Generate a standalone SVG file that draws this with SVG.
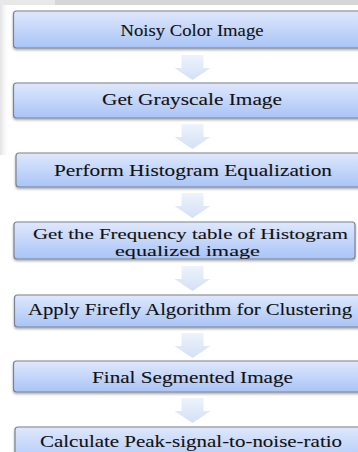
<svg xmlns="http://www.w3.org/2000/svg" width="358" height="452" viewBox="0 0 358 452">
<defs>
<linearGradient id="bg" x1="0" y1="0" x2="0" y2="1">
<stop offset="0" stop-color="#dfe8fc"/>
<stop offset="1" stop-color="#a9c4f7"/>
</linearGradient>
<linearGradient id="ag" x1="0" y1="0" x2="0" y2="1">
<stop offset="0" stop-color="#eef3fc"/>
<stop offset="1" stop-color="#d3e0f5"/>
</linearGradient>
<linearGradient id="ls" x1="0" y1="0" x2="1" y2="0">
<stop offset="0" stop-color="#e2e2e2"/>
<stop offset="1" stop-color="#ffffff" stop-opacity="0"/>
</linearGradient>
<filter id="sh" x="-5%" y="-20%" width="110%" height="150%">
<feDropShadow dx="0" dy="1.5" stdDeviation="1.2" flood-color="#000" flood-opacity="0.35"/>
</filter>
<path id="arr" d="M-11,0 H11 V13 H18 L0,25 L-18,13 H-11 Z"/>
</defs>
<style>
.box{fill:url(#bg);stroke:#7a8290;stroke-width:1.2;filter:url(#sh)}
.t{font-size:17px;fill:#111;stroke:#111;stroke-width:0.1;text-anchor:middle}
.s{font-size:15px}
.a{fill:url(#ag)}
</style>
<rect x="0" y="0" width="358" height="452" fill="#fff"/>
<rect x="55" y="0" width="303" height="5" fill="#d6d6d6"/>
<rect x="0" y="0" width="55" height="5" fill="#e8e8e8"/>
<rect x="0" y="5" width="10" height="150" fill="url(#ls)"/>
<g id="connectors">
<use href="#arr" class="a" x="192.5" y="55"/>
<use href="#arr" class="a" x="192.5" y="124"/>
<use href="#arr" class="a" x="192.5" y="193"/>
<use href="#arr" class="a" x="192.5" y="266"/>
<use href="#arr" class="a" x="192.5" y="333"/>
<use href="#arr" class="a" x="192.5" y="398"/>
</g>
<g font-family="'Liberation Serif', 'Times New Roman', 'DejaVu Serif', serif">
<g id="n1"><rect class="box" x="13.5" y="11" width="350" height="37" rx="3"/><text class="t" x="192" y="36" textLength="143" lengthAdjust="spacingAndGlyphs">Noisy Color Image</text></g>
<g id="n2"><rect class="box" x="13.5" y="83" width="350" height="35" rx="3"/><text class="t" x="192" y="105" textLength="180" lengthAdjust="spacingAndGlyphs">Get Grayscale Image</text></g>
<g id="n3"><rect class="box" x="16" y="153" width="350" height="34" rx="3"/><text class="t" x="193" y="176" textLength="278" lengthAdjust="spacingAndGlyphs">Perform Histogram Equalization</text></g>
<g id="n4"><rect class="box" x="14" y="222" width="341" height="37" rx="3"/><text class="t s" x="190.5" y="238.5" textLength="315" lengthAdjust="spacingAndGlyphs">Get the Frequency table of Histogram</text><text class="t s" x="187.5" y="255.5" textLength="145" lengthAdjust="spacingAndGlyphs">equalized image</text></g>
<g id="n5"><rect class="box" x="14.5" y="295" width="350" height="32" rx="3"/><text class="t" x="190" y="315" textLength="324" lengthAdjust="spacingAndGlyphs">Apply Firefly  Algorithm  for Clustering</text></g>
<g id="n6"><rect class="box" x="13.5" y="361" width="350" height="31" rx="3"/><text class="t" x="192.5" y="383" textLength="201" lengthAdjust="spacingAndGlyphs">Final Segmented Image</text></g>
<g id="n7"><rect class="box" x="15" y="427" width="350" height="40" rx="3"/><text class="t" x="191" y="447" textLength="302" lengthAdjust="spacingAndGlyphs">Calculate Peak-signal-to-noise-ratio</text></g>
</g>
</svg>
